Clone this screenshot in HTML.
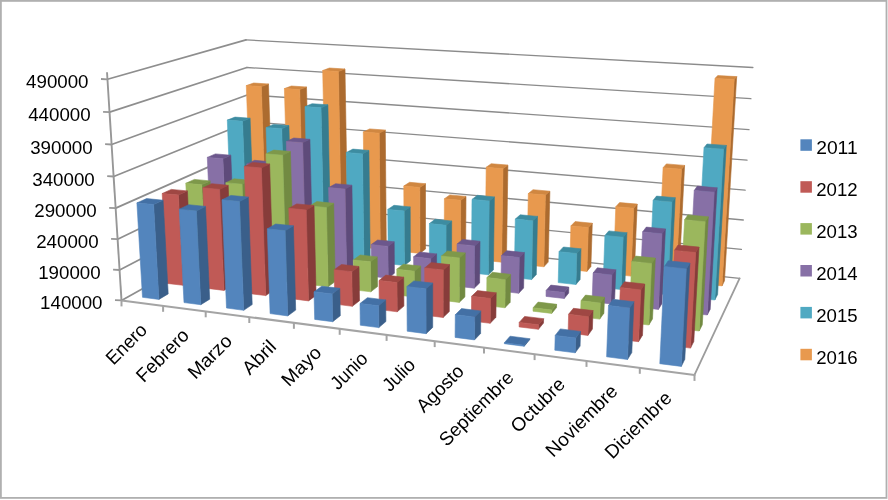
<!DOCTYPE html>
<html><head><meta charset="utf-8"><title>Chart</title>
<style>
html,body{margin:0;padding:0;background:#fff}
body{width:888px;height:500px;position:relative;overflow:hidden}
.t{font-family:"Liberation Sans","DejaVu Sans",sans-serif;font-size:18.8px;fill:#000}
.c{font-size:19px}
.v{font-size:18.8px}
</style></head><body>
<svg width="888" height="500" viewBox="0 0 888 500" style="position:absolute;left:0;top:0">
<rect x="0.9" y="0.9" width="885.6" height="497" fill="#fff" stroke="#b0b0b0" stroke-width="1.8"/>
<polygon fill="#fff" points="121.5,300.4 252.7,227.1 739.6,278.4 694.5,374.9"/>
<line x1="252.7" y1="227.1" x2="739.6" y2="278.4" stroke="#8b8b8b" stroke-width="1.35" stroke-linecap="round"/>
<line x1="121.5" y1="300.4" x2="252.7" y2="227.1" stroke="#8e8e8e" stroke-width="1.7" stroke-linecap="round"/>
<line x1="251.7" y1="201.2" x2="741.4" y2="249.4" stroke="#8b8b8b" stroke-width="1.35" stroke-linecap="round"/>
<line x1="119.6" y1="270.0" x2="251.7" y2="201.2" stroke="#8e8e8e" stroke-width="1.7" stroke-linecap="round"/>
<line x1="250.8" y1="175.0" x2="743.3" y2="220.0" stroke="#8b8b8b" stroke-width="1.35" stroke-linecap="round"/>
<line x1="117.6" y1="239.2" x2="250.8" y2="175.0" stroke="#8e8e8e" stroke-width="1.7" stroke-linecap="round"/>
<line x1="249.9" y1="148.6" x2="745.1" y2="190.2" stroke="#8b8b8b" stroke-width="1.35" stroke-linecap="round"/>
<line x1="115.7" y1="208.1" x2="249.9" y2="148.6" stroke="#8e8e8e" stroke-width="1.7" stroke-linecap="round"/>
<line x1="248.9" y1="121.8" x2="747.0" y2="160.1" stroke="#8b8b8b" stroke-width="1.35" stroke-linecap="round"/>
<line x1="113.7" y1="176.5" x2="248.9" y2="121.8" stroke="#8e8e8e" stroke-width="1.7" stroke-linecap="round"/>
<line x1="247.9" y1="94.8" x2="749.0" y2="129.6" stroke="#8b8b8b" stroke-width="1.35" stroke-linecap="round"/>
<line x1="111.6" y1="144.5" x2="247.9" y2="94.8" stroke="#8e8e8e" stroke-width="1.7" stroke-linecap="round"/>
<line x1="246.9" y1="67.5" x2="750.9" y2="98.7" stroke="#8b8b8b" stroke-width="1.35" stroke-linecap="round"/>
<line x1="109.6" y1="112.1" x2="246.9" y2="67.5" stroke="#8e8e8e" stroke-width="1.7" stroke-linecap="round"/>
<line x1="246.0" y1="39.9" x2="752.9" y2="67.5" stroke="#8b8b8b" stroke-width="1.35" stroke-linecap="round"/>
<line x1="107.5" y1="79.3" x2="246.0" y2="39.9" stroke="#8e8e8e" stroke-width="1.7" stroke-linecap="round"/>
<line x1="694.5" y1="374.9" x2="739.6" y2="278.4" stroke="#9c9c9c" stroke-width="1.8" stroke-linecap="round"/>
<line x1="121.5" y1="300.4" x2="694.5" y2="374.9" stroke="#a4a4a4" stroke-width="2.0" stroke-linecap="round"/>
<line x1="121.5" y1="300.4" x2="107.0" y2="72.3" stroke="#979797" stroke-width="1.9"/>
<line x1="115.0" y1="300.1" x2="121.5" y2="300.4" stroke="#979797" stroke-width="1.8"/>
<line x1="113.1" y1="269.7" x2="119.6" y2="270.0" stroke="#979797" stroke-width="1.8"/>
<line x1="111.1" y1="238.9" x2="117.6" y2="239.2" stroke="#979797" stroke-width="1.8"/>
<line x1="109.2" y1="207.8" x2="115.7" y2="208.1" stroke="#979797" stroke-width="1.8"/>
<line x1="107.2" y1="176.2" x2="113.7" y2="176.5" stroke="#979797" stroke-width="1.8"/>
<line x1="105.1" y1="144.2" x2="111.6" y2="144.5" stroke="#979797" stroke-width="1.8"/>
<line x1="103.1" y1="111.8" x2="109.6" y2="112.1" stroke="#979797" stroke-width="1.8"/>
<line x1="101.0" y1="79.0" x2="107.5" y2="79.3" stroke="#979797" stroke-width="1.8"/>
<line x1="121.5" y1="300.4" x2="121.5" y2="306.4" stroke="#a4a4a4" stroke-width="2"/>
<line x1="163.1" y1="305.8" x2="163.1" y2="311.8" stroke="#a4a4a4" stroke-width="2"/>
<line x1="205.7" y1="311.3" x2="205.7" y2="317.3" stroke="#a4a4a4" stroke-width="2"/>
<line x1="249.3" y1="317.0" x2="249.3" y2="323.0" stroke="#a4a4a4" stroke-width="2"/>
<line x1="293.9" y1="322.8" x2="293.9" y2="328.8" stroke="#a4a4a4" stroke-width="2"/>
<line x1="339.7" y1="328.8" x2="339.7" y2="334.8" stroke="#a4a4a4" stroke-width="2"/>
<line x1="386.6" y1="334.9" x2="386.6" y2="340.9" stroke="#a4a4a4" stroke-width="2"/>
<line x1="434.7" y1="341.1" x2="434.7" y2="347.1" stroke="#a4a4a4" stroke-width="2"/>
<line x1="484.0" y1="347.5" x2="484.0" y2="353.5" stroke="#a4a4a4" stroke-width="2"/>
<line x1="534.6" y1="354.1" x2="534.6" y2="360.1" stroke="#a4a4a4" stroke-width="2"/>
<line x1="586.5" y1="360.9" x2="586.5" y2="366.9" stroke="#a4a4a4" stroke-width="2"/>
<line x1="639.8" y1="367.8" x2="639.8" y2="373.8" stroke="#a4a4a4" stroke-width="2"/>
<line x1="694.5" y1="374.9" x2="694.5" y2="380.9" stroke="#a4a4a4" stroke-width="2"/>
<g transform="translate(0,0)">
<g transform="translate(0.50,0)">
<polygon fill="#AC6B2F" stroke="#AC6B2F" stroke-width="0.6" stroke-linejoin="round" points="265.8,236.9 272.8,232.8 268.0,84.0 260.8,86.6"/>
<polygon fill="#D08741" stroke="#D08741" stroke-width="0.6" stroke-linejoin="round" points="245.8,85.6 260.8,86.6 268.0,84.0 253.2,83.0"/>
<polygon fill="#E8994E" stroke="#E8994E" stroke-width="0.6" stroke-linejoin="round" points="251.3,235.3 265.8,236.9 260.8,86.6 245.8,85.6"/>
<polygon fill="#AC6B2F" stroke="#AC6B2F" stroke-width="0.6" stroke-linejoin="round" points="303.1,240.9 309.7,236.7 306.0,87.0 299.2,89.6"/>
<polygon fill="#D08741" stroke="#D08741" stroke-width="0.6" stroke-linejoin="round" points="283.9,88.6 299.2,89.6 306.0,87.0 290.9,86.0"/>
<polygon fill="#E8994E" stroke="#E8994E" stroke-width="0.6" stroke-linejoin="round" points="288.2,239.3 303.1,240.9 299.2,89.6 283.9,88.6"/>
<polygon fill="#AC6B2F" stroke="#AC6B2F" stroke-width="0.6" stroke-linejoin="round" points="341.1,245.0 347.4,240.7 344.5,69.0 337.9,71.5"/>
<polygon fill="#D08741" stroke="#D08741" stroke-width="0.6" stroke-linejoin="round" points="322.2,70.5 337.9,71.5 344.5,69.0 328.9,68.0"/>
<polygon fill="#E8994E" stroke="#E8994E" stroke-width="0.6" stroke-linejoin="round" points="325.9,243.3 341.1,245.0 337.9,71.5 322.2,70.5"/>
<polygon fill="#AC6B2F" stroke="#AC6B2F" stroke-width="0.6" stroke-linejoin="round" points="379.8,249.2 385.8,244.8 384.8,130.1 378.7,133.2"/>
<polygon fill="#D08741" stroke="#D08741" stroke-width="0.6" stroke-linejoin="round" points="362.8,132.0 378.7,133.2 384.8,130.1 369.1,128.9"/>
<polygon fill="#E8994E" stroke="#E8994E" stroke-width="0.6" stroke-linejoin="round" points="364.4,247.5 379.8,249.2 378.7,133.2 362.8,132.0"/>
<polygon fill="#AC6B2F" stroke="#AC6B2F" stroke-width="0.6" stroke-linejoin="round" points="419.4,253.4 425.0,249.0 425.0,183.7 419.3,187.5"/>
<polygon fill="#D08741" stroke="#D08741" stroke-width="0.6" stroke-linejoin="round" points="403.3,186.0 419.3,187.5 425.0,183.7 409.1,182.3"/>
<polygon fill="#E8994E" stroke="#E8994E" stroke-width="0.6" stroke-linejoin="round" points="403.6,251.7 419.4,253.4 419.3,187.5 403.3,186.0"/>
<polygon fill="#AC6B2F" stroke="#AC6B2F" stroke-width="0.6" stroke-linejoin="round" points="459.9,257.8 465.1,253.3 465.5,196.4 460.2,200.3"/>
<polygon fill="#D08741" stroke="#D08741" stroke-width="0.6" stroke-linejoin="round" points="443.9,198.8 460.2,200.3 465.5,196.4 449.3,194.9"/>
<polygon fill="#E8994E" stroke="#E8994E" stroke-width="0.6" stroke-linejoin="round" points="443.7,256.0 459.9,257.8 460.2,200.3 443.9,198.8"/>
<polygon fill="#AC6B2F" stroke="#AC6B2F" stroke-width="0.6" stroke-linejoin="round" points="501.1,262.2 506.0,257.6 507.4,165.1 502.5,168.7"/>
<polygon fill="#D08741" stroke="#D08741" stroke-width="0.6" stroke-linejoin="round" points="485.7,167.3 502.5,168.7 507.4,165.1 490.7,163.7"/>
<polygon fill="#E8994E" stroke="#E8994E" stroke-width="0.6" stroke-linejoin="round" points="484.6,260.4 501.1,262.2 502.5,168.7 485.7,167.3"/>
<polygon fill="#AC6B2F" stroke="#AC6B2F" stroke-width="0.6" stroke-linejoin="round" points="543.3,266.8 547.7,262.1 549.4,191.2 544.9,195.1"/>
<polygon fill="#D08741" stroke="#D08741" stroke-width="0.6" stroke-linejoin="round" points="527.8,193.6 544.9,195.1 549.4,191.2 532.5,189.7"/>
<polygon fill="#E8994E" stroke="#E8994E" stroke-width="0.6" stroke-linejoin="round" points="526.5,264.9 543.3,266.8 544.9,195.1 527.8,193.6"/>
<polygon fill="#AC6B2F" stroke="#AC6B2F" stroke-width="0.6" stroke-linejoin="round" points="586.4,271.4 590.4,266.6 591.8,223.2 587.8,227.6"/>
<polygon fill="#D08741" stroke="#D08741" stroke-width="0.6" stroke-linejoin="round" points="570.4,225.9 587.8,227.6 591.8,223.2 574.6,221.6"/>
<polygon fill="#E8994E" stroke="#E8994E" stroke-width="0.6" stroke-linejoin="round" points="569.2,269.5 586.4,271.4 587.8,227.6 570.4,225.9"/>
<polygon fill="#AC6B2F" stroke="#AC6B2F" stroke-width="0.6" stroke-linejoin="round" points="630.4,276.1 633.9,271.2 636.7,204.1 633.2,208.3"/>
<polygon fill="#D08741" stroke="#D08741" stroke-width="0.6" stroke-linejoin="round" points="615.3,206.7 633.2,208.3 636.7,204.1 619.1,202.6"/>
<polygon fill="#E8994E" stroke="#E8994E" stroke-width="0.6" stroke-linejoin="round" points="612.8,274.2 630.4,276.1 633.2,208.3 615.3,206.7"/>
<polygon fill="#AC6B2F" stroke="#AC6B2F" stroke-width="0.6" stroke-linejoin="round" points="675.4,281.0 678.5,276.0 684.1,165.4 681.0,169.2"/>
<polygon fill="#D08741" stroke="#D08741" stroke-width="0.6" stroke-linejoin="round" points="662.6,167.7 681.0,169.2 684.1,165.4 665.9,163.9"/>
<polygon fill="#E8994E" stroke="#E8994E" stroke-width="0.6" stroke-linejoin="round" points="657.4,279.1 675.4,281.0 681.0,169.2 662.6,167.7"/>
<polygon fill="#AC6B2F" stroke="#AC6B2F" stroke-width="0.6" stroke-linejoin="round" points="721.5,285.9 724.0,280.8 736.2,76.6 733.7,79.5"/>
<polygon fill="#D08741" stroke="#D08741" stroke-width="0.6" stroke-linejoin="round" points="714.5,78.4 733.7,79.5 736.2,76.6 717.2,75.6"/>
<polygon fill="#E8994E" stroke="#E8994E" stroke-width="0.6" stroke-linejoin="round" points="703.1,284.0 721.5,285.9 733.7,79.5 714.5,78.4"/>
</g>
<g transform="translate(0.40,0)">
<polygon fill="#367C8F" stroke="#367C8F" stroke-width="0.6" stroke-linejoin="round" points="246.8,248.0 254.2,243.7 249.7,118.2 242.1,121.3"/>
<polygon fill="#3D8CA1" stroke="#3D8CA1" stroke-width="0.6" stroke-linejoin="round" points="226.9,120.1 242.1,121.3 249.7,118.2 234.6,117.1"/>
<polygon fill="#4FA9C2" stroke="#4FA9C2" stroke-width="0.6" stroke-linejoin="round" points="231.9,246.3 246.8,248.0 242.1,121.3 226.9,120.1"/>
<polygon fill="#367C8F" stroke="#367C8F" stroke-width="0.6" stroke-linejoin="round" points="284.9,252.2 291.9,247.8 288.5,125.6 281.3,128.7"/>
<polygon fill="#3D8CA1" stroke="#3D8CA1" stroke-width="0.6" stroke-linejoin="round" points="265.7,127.5 281.3,128.7 288.5,125.6 273.1,124.4"/>
<polygon fill="#4FA9C2" stroke="#4FA9C2" stroke-width="0.6" stroke-linejoin="round" points="269.7,250.5 284.9,252.2 281.3,128.7 265.7,127.5"/>
<polygon fill="#367C8F" stroke="#367C8F" stroke-width="0.6" stroke-linejoin="round" points="323.8,256.5 330.5,252.1 327.5,104.8 320.6,107.8"/>
<polygon fill="#3D8CA1" stroke="#3D8CA1" stroke-width="0.6" stroke-linejoin="round" points="304.6,106.6 320.6,107.8 327.5,104.8 311.7,103.7"/>
<polygon fill="#4FA9C2" stroke="#4FA9C2" stroke-width="0.6" stroke-linejoin="round" points="308.3,254.8 323.8,256.5 320.6,107.8 304.6,106.6"/>
<polygon fill="#367C8F" stroke="#367C8F" stroke-width="0.6" stroke-linejoin="round" points="363.5,261.0 369.8,256.4 368.5,150.4 362.1,153.9"/>
<polygon fill="#3D8CA1" stroke="#3D8CA1" stroke-width="0.6" stroke-linejoin="round" points="345.9,152.5 362.1,153.9 368.5,150.4 352.5,149.1"/>
<polygon fill="#4FA9C2" stroke="#4FA9C2" stroke-width="0.6" stroke-linejoin="round" points="347.7,259.2 363.5,261.0 362.1,153.9 345.9,152.5"/>
<polygon fill="#367C8F" stroke="#367C8F" stroke-width="0.6" stroke-linejoin="round" points="404.1,265.5 410.0,260.8 409.8,206.9 403.8,211.0"/>
<polygon fill="#3D8CA1" stroke="#3D8CA1" stroke-width="0.6" stroke-linejoin="round" points="387.4,209.4 403.8,211.0 409.8,206.9 393.6,205.3"/>
<polygon fill="#4FA9C2" stroke="#4FA9C2" stroke-width="0.6" stroke-linejoin="round" points="387.9,263.7 404.1,265.5 403.8,211.0 387.4,209.4"/>
<polygon fill="#367C8F" stroke="#367C8F" stroke-width="0.6" stroke-linejoin="round" points="445.6,270.1 451.1,265.3 451.3,221.0 445.7,225.3"/>
<polygon fill="#3D8CA1" stroke="#3D8CA1" stroke-width="0.6" stroke-linejoin="round" points="429.0,223.6 445.7,225.3 451.3,221.0 434.7,219.3"/>
<polygon fill="#4FA9C2" stroke="#4FA9C2" stroke-width="0.6" stroke-linejoin="round" points="429.0,268.2 445.6,270.1 445.7,225.3 429.0,223.6"/>
<polygon fill="#367C8F" stroke="#367C8F" stroke-width="0.6" stroke-linejoin="round" points="487.9,274.8 493.0,269.9 494.0,196.9 488.8,201.0"/>
<polygon fill="#3D8CA1" stroke="#3D8CA1" stroke-width="0.6" stroke-linejoin="round" points="471.6,199.4 488.8,201.0 494.0,196.9 476.9,195.3"/>
<polygon fill="#4FA9C2" stroke="#4FA9C2" stroke-width="0.6" stroke-linejoin="round" points="471.0,272.9 487.9,274.8 488.8,201.0 471.6,199.4"/>
<polygon fill="#367C8F" stroke="#367C8F" stroke-width="0.6" stroke-linejoin="round" points="531.2,279.6 535.9,274.6 537.1,216.4 532.4,220.8"/>
<polygon fill="#3D8CA1" stroke="#3D8CA1" stroke-width="0.6" stroke-linejoin="round" points="514.9,219.1 532.4,220.8 537.1,216.4 519.8,214.8"/>
<polygon fill="#4FA9C2" stroke="#4FA9C2" stroke-width="0.6" stroke-linejoin="round" points="513.9,277.7 531.2,279.6 532.4,220.8 514.9,219.1"/>
<polygon fill="#367C8F" stroke="#367C8F" stroke-width="0.6" stroke-linejoin="round" points="575.5,284.5 579.7,279.5 580.6,248.8 576.4,253.5"/>
<polygon fill="#3D8CA1" stroke="#3D8CA1" stroke-width="0.6" stroke-linejoin="round" points="558.6,251.7 576.4,253.5 580.6,248.8 563.0,247.0"/>
<polygon fill="#4FA9C2" stroke="#4FA9C2" stroke-width="0.6" stroke-linejoin="round" points="557.8,282.6 575.5,284.5 576.4,253.5 558.6,251.7"/>
<polygon fill="#367C8F" stroke="#367C8F" stroke-width="0.6" stroke-linejoin="round" points="620.7,289.6 624.5,284.4 626.5,232.7 622.8,237.3"/>
<polygon fill="#3D8CA1" stroke="#3D8CA1" stroke-width="0.6" stroke-linejoin="round" points="604.5,235.5 622.8,237.3 626.5,232.7 608.4,230.9"/>
<polygon fill="#4FA9C2" stroke="#4FA9C2" stroke-width="0.6" stroke-linejoin="round" points="602.6,287.6 620.7,289.6 622.8,237.3 604.5,235.5"/>
<polygon fill="#367C8F" stroke="#367C8F" stroke-width="0.6" stroke-linejoin="round" points="667.1,294.7 670.3,289.4 674.8,197.7 671.5,202.1"/>
<polygon fill="#3D8CA1" stroke="#3D8CA1" stroke-width="0.6" stroke-linejoin="round" points="652.7,200.4 671.5,202.1 674.8,197.7 656.1,196.1"/>
<polygon fill="#4FA9C2" stroke="#4FA9C2" stroke-width="0.6" stroke-linejoin="round" points="648.5,292.7 667.1,294.7 671.5,202.1 652.7,200.4"/>
<polygon fill="#367C8F" stroke="#367C8F" stroke-width="0.6" stroke-linejoin="round" points="714.4,300.0 717.2,294.6 725.9,145.4 723.2,149.2"/>
<polygon fill="#3D8CA1" stroke="#3D8CA1" stroke-width="0.6" stroke-linejoin="round" points="703.6,147.7 723.2,149.2 725.9,145.4 706.6,144.0"/>
<polygon fill="#4FA9C2" stroke="#4FA9C2" stroke-width="0.6" stroke-linejoin="round" points="695.5,297.9 714.4,300.0 723.2,149.2 703.6,147.7"/>
</g>
<g transform="translate(0.30,0)">
<polygon fill="#5E4B7A" stroke="#5E4B7A" stroke-width="0.6" stroke-linejoin="round" points="226.8,259.7 234.5,255.2 230.5,155.2 222.6,158.7"/>
<polygon fill="#6C578C" stroke="#6C578C" stroke-width="0.6" stroke-linejoin="round" points="207.0,157.4 222.6,158.7 230.5,155.2 215.1,153.9"/>
<polygon fill="#8770A6" stroke="#8770A6" stroke-width="0.6" stroke-linejoin="round" points="211.5,258.0 226.8,259.7 222.6,158.7 207.0,157.4"/>
<polygon fill="#5E4B7A" stroke="#5E4B7A" stroke-width="0.6" stroke-linejoin="round" points="265.7,264.2 273.2,259.6 270.0,161.7 262.4,165.3"/>
<polygon fill="#6C578C" stroke="#6C578C" stroke-width="0.6" stroke-linejoin="round" points="246.5,163.9 262.4,165.3 270.0,161.7 254.3,160.3"/>
<polygon fill="#8770A6" stroke="#8770A6" stroke-width="0.6" stroke-linejoin="round" points="250.2,262.4 265.7,264.2 262.4,165.3 246.5,163.9"/>
<polygon fill="#5E4B7A" stroke="#5E4B7A" stroke-width="0.6" stroke-linejoin="round" points="305.6,268.8 312.6,264.0 309.6,139.3 302.4,142.7"/>
<polygon fill="#6C578C" stroke="#6C578C" stroke-width="0.6" stroke-linejoin="round" points="286.0,141.4 302.4,142.7 309.6,139.3 293.5,138.0"/>
<polygon fill="#8770A6" stroke="#8770A6" stroke-width="0.6" stroke-linejoin="round" points="289.7,266.9 305.6,268.8 302.4,142.7 286.0,141.4"/>
<polygon fill="#5E4B7A" stroke="#5E4B7A" stroke-width="0.6" stroke-linejoin="round" points="346.3,273.5 352.9,268.6 351.6,185.2 344.8,189.1"/>
<polygon fill="#6C578C" stroke="#6C578C" stroke-width="0.6" stroke-linejoin="round" points="328.3,187.6 344.8,189.1 351.6,185.2 335.3,183.7"/>
<polygon fill="#8770A6" stroke="#8770A6" stroke-width="0.6" stroke-linejoin="round" points="330.0,271.6 346.3,273.5 344.8,189.1 328.3,187.6"/>
<polygon fill="#5E4B7A" stroke="#5E4B7A" stroke-width="0.6" stroke-linejoin="round" points="387.9,278.3 394.1,273.3 393.9,241.8 387.6,246.4"/>
<polygon fill="#6C578C" stroke="#6C578C" stroke-width="0.6" stroke-linejoin="round" points="370.9,244.6 387.6,246.4 393.9,241.8 377.3,240.0"/>
<polygon fill="#8770A6" stroke="#8770A6" stroke-width="0.6" stroke-linejoin="round" points="371.2,276.3 387.9,278.3 387.6,246.4 370.9,244.6"/>
<polygon fill="#5E4B7A" stroke="#5E4B7A" stroke-width="0.6" stroke-linejoin="round" points="430.4,283.2 436.3,278.1 436.3,253.9 430.4,258.7"/>
<polygon fill="#6C578C" stroke="#6C578C" stroke-width="0.6" stroke-linejoin="round" points="413.3,256.8 430.4,258.7 436.3,253.9 419.4,252.0"/>
<polygon fill="#8770A6" stroke="#8770A6" stroke-width="0.6" stroke-linejoin="round" points="413.4,281.2 430.4,283.2 430.4,258.7 413.3,256.8"/>
<polygon fill="#5E4B7A" stroke="#5E4B7A" stroke-width="0.6" stroke-linejoin="round" points="473.9,288.2 479.3,283.0 479.7,241.2 474.3,245.9"/>
<polygon fill="#6C578C" stroke="#6C578C" stroke-width="0.6" stroke-linejoin="round" points="456.7,244.1 474.3,245.9 479.7,241.2 462.4,239.4"/>
<polygon fill="#8770A6" stroke="#8770A6" stroke-width="0.6" stroke-linejoin="round" points="456.5,286.2 473.9,288.2 474.3,245.9 456.7,244.1"/>
<polygon fill="#5E4B7A" stroke="#5E4B7A" stroke-width="0.6" stroke-linejoin="round" points="518.4,293.3 523.3,288.0 524.0,252.6 519.0,257.5"/>
<polygon fill="#6C578C" stroke="#6C578C" stroke-width="0.6" stroke-linejoin="round" points="501.1,255.6 519.0,257.5 524.0,252.6 506.3,250.7"/>
<polygon fill="#8770A6" stroke="#8770A6" stroke-width="0.6" stroke-linejoin="round" points="500.6,291.2 518.4,293.3 519.0,257.5 501.1,255.6"/>
<polygon fill="#5E4B7A" stroke="#5E4B7A" stroke-width="0.6" stroke-linejoin="round" points="563.9,298.5 568.4,293.1 568.5,287.1 564.0,292.5"/>
<polygon fill="#6C578C" stroke="#6C578C" stroke-width="0.6" stroke-linejoin="round" points="545.8,290.4 564.0,292.5 568.5,287.1 550.5,285.1"/>
<polygon fill="#8770A6" stroke="#8770A6" stroke-width="0.6" stroke-linejoin="round" points="545.7,296.4 563.9,298.5 564.0,292.5 545.8,290.4"/>
<polygon fill="#5E4B7A" stroke="#5E4B7A" stroke-width="0.6" stroke-linejoin="round" points="610.4,303.9 614.4,298.3 615.5,269.8 611.5,275.0"/>
<polygon fill="#6C578C" stroke="#6C578C" stroke-width="0.6" stroke-linejoin="round" points="592.8,273.0 611.5,275.0 615.5,269.8 597.0,267.8"/>
<polygon fill="#8770A6" stroke="#8770A6" stroke-width="0.6" stroke-linejoin="round" points="591.8,301.7 610.4,303.9 611.5,275.0 592.8,273.0"/>
<polygon fill="#5E4B7A" stroke="#5E4B7A" stroke-width="0.6" stroke-linejoin="round" points="658.1,309.4 661.6,303.7 665.1,228.9 661.7,233.8"/>
<polygon fill="#6C578C" stroke="#6C578C" stroke-width="0.6" stroke-linejoin="round" points="642.3,231.9 661.7,233.8 665.1,228.9 646.0,227.1"/>
<polygon fill="#8770A6" stroke="#8770A6" stroke-width="0.6" stroke-linejoin="round" points="639.1,307.2 658.1,309.4 661.7,233.8 642.3,231.9"/>
<polygon fill="#5E4B7A" stroke="#5E4B7A" stroke-width="0.6" stroke-linejoin="round" points="707.0,315.0 709.9,309.2 716.8,187.8 713.9,192.2"/>
<polygon fill="#6C578C" stroke="#6C578C" stroke-width="0.6" stroke-linejoin="round" points="693.9,190.5 713.9,192.2 716.8,187.8 697.0,186.1"/>
<polygon fill="#8770A6" stroke="#8770A6" stroke-width="0.6" stroke-linejoin="round" points="687.4,312.7 707.0,315.0 713.9,192.2 693.9,190.5"/>
</g>
<g transform="translate(0.20,0)">
<polygon fill="#728A42" stroke="#728A42" stroke-width="0.6" stroke-linejoin="round" points="205.5,272.1 213.7,267.3 209.9,180.9 201.5,184.8"/>
<polygon fill="#7E984A" stroke="#7E984A" stroke-width="0.6" stroke-linejoin="round" points="185.6,183.3 201.5,184.8 209.9,180.9 194.2,179.4"/>
<polygon fill="#9BB75D" stroke="#9BB75D" stroke-width="0.6" stroke-linejoin="round" points="189.9,270.3 205.5,272.1 201.5,184.8 185.6,183.3"/>
<polygon fill="#728A42" stroke="#728A42" stroke-width="0.6" stroke-linejoin="round" points="245.4,276.9 253.3,272.0 249.9,180.3 241.9,184.2"/>
<polygon fill="#7E984A" stroke="#7E984A" stroke-width="0.6" stroke-linejoin="round" points="225.6,182.7 241.9,184.2 249.9,180.3 233.9,178.8"/>
<polygon fill="#9BB75D" stroke="#9BB75D" stroke-width="0.6" stroke-linejoin="round" points="229.4,275.0 245.4,276.9 241.9,184.2 225.6,182.7"/>
<polygon fill="#728A42" stroke="#728A42" stroke-width="0.6" stroke-linejoin="round" points="286.2,281.8 293.7,276.7 290.2,151.5 282.5,155.2"/>
<polygon fill="#7E984A" stroke="#7E984A" stroke-width="0.6" stroke-linejoin="round" points="265.8,153.8 282.5,155.2 290.2,151.5 273.6,150.1"/>
<polygon fill="#9BB75D" stroke="#9BB75D" stroke-width="0.6" stroke-linejoin="round" points="269.9,279.8 286.2,281.8 282.5,155.2 265.8,153.8"/>
<polygon fill="#728A42" stroke="#728A42" stroke-width="0.6" stroke-linejoin="round" points="327.9,286.7 335.0,281.6 333.5,203.3 326.3,207.6"/>
<polygon fill="#7E984A" stroke="#7E984A" stroke-width="0.6" stroke-linejoin="round" points="309.3,205.9 326.3,207.6 333.5,203.3 316.7,201.6"/>
<polygon fill="#9BB75D" stroke="#9BB75D" stroke-width="0.6" stroke-linejoin="round" points="311.2,284.8 327.9,286.7 326.3,207.6 309.3,205.9"/>
<polygon fill="#728A42" stroke="#728A42" stroke-width="0.6" stroke-linejoin="round" points="370.6,291.8 377.3,286.6 377.0,256.9 370.2,261.8"/>
<polygon fill="#7E984A" stroke="#7E984A" stroke-width="0.6" stroke-linejoin="round" points="353.1,259.9 370.2,261.8 377.0,256.9 360.0,255.0"/>
<polygon fill="#9BB75D" stroke="#9BB75D" stroke-width="0.6" stroke-linejoin="round" points="353.5,289.8 370.6,291.8 370.2,261.8 353.1,259.9"/>
<polygon fill="#728A42" stroke="#728A42" stroke-width="0.6" stroke-linejoin="round" points="414.3,297.0 420.5,291.7 420.5,266.1 414.2,271.2"/>
<polygon fill="#7E984A" stroke="#7E984A" stroke-width="0.6" stroke-linejoin="round" points="396.6,269.2 414.2,271.2 420.5,266.1 403.1,264.2"/>
<polygon fill="#9BB75D" stroke="#9BB75D" stroke-width="0.6" stroke-linejoin="round" points="396.8,295.0 414.3,297.0 414.2,271.2 396.6,269.2"/>
<polygon fill="#728A42" stroke="#728A42" stroke-width="0.6" stroke-linejoin="round" points="459.0,302.4 464.7,296.9 465.0,252.9 459.2,257.9"/>
<polygon fill="#7E984A" stroke="#7E984A" stroke-width="0.6" stroke-linejoin="round" points="441.2,256.0 459.2,257.9 465.0,252.9 447.2,251.0"/>
<polygon fill="#9BB75D" stroke="#9BB75D" stroke-width="0.6" stroke-linejoin="round" points="441.1,300.2 459.0,302.4 459.2,257.9 441.2,256.0"/>
<polygon fill="#728A42" stroke="#728A42" stroke-width="0.6" stroke-linejoin="round" points="504.7,307.8 510.0,302.2 510.4,274.4 505.1,279.7"/>
<polygon fill="#7E984A" stroke="#7E984A" stroke-width="0.6" stroke-linejoin="round" points="486.7,277.6 505.1,279.7 510.4,274.4 492.2,272.3"/>
<polygon fill="#9BB75D" stroke="#9BB75D" stroke-width="0.6" stroke-linejoin="round" points="486.4,305.6 504.7,307.8 505.1,279.7 486.7,277.6"/>
<polygon fill="#728A42" stroke="#728A42" stroke-width="0.6" stroke-linejoin="round" points="551.5,313.4 556.3,307.6 556.4,304.3 551.6,310.0"/>
<polygon fill="#7E984A" stroke="#7E984A" stroke-width="0.6" stroke-linejoin="round" points="532.9,307.8 551.6,310.0 556.4,304.3 537.9,302.1"/>
<polygon fill="#9BB75D" stroke="#9BB75D" stroke-width="0.6" stroke-linejoin="round" points="532.8,311.2 551.5,313.4 551.6,310.0 532.9,307.8"/>
<polygon fill="#728A42" stroke="#728A42" stroke-width="0.6" stroke-linejoin="round" points="599.5,319.1 603.7,313.2 604.3,297.3 600.0,303.0"/>
<polygon fill="#7E984A" stroke="#7E984A" stroke-width="0.6" stroke-linejoin="round" points="580.8,300.8 600.0,303.0 604.3,297.3 585.3,295.1"/>
<polygon fill="#9BB75D" stroke="#9BB75D" stroke-width="0.6" stroke-linejoin="round" points="580.3,316.8 599.5,319.1 600.0,303.0 580.8,300.8"/>
<polygon fill="#728A42" stroke="#728A42" stroke-width="0.6" stroke-linejoin="round" points="648.6,325.0 652.3,318.9 655.1,258.1 651.4,263.5"/>
<polygon fill="#7E984A" stroke="#7E984A" stroke-width="0.6" stroke-linejoin="round" points="631.5,261.4 651.4,263.5 655.1,258.1 635.4,256.1"/>
<polygon fill="#9BB75D" stroke="#9BB75D" stroke-width="0.6" stroke-linejoin="round" points="629.0,322.6 648.6,325.0 651.4,263.5 631.5,261.4"/>
<polygon fill="#728A42" stroke="#728A42" stroke-width="0.6" stroke-linejoin="round" points="699.0,331.0 702.1,324.8 708.1,216.8 705.0,221.7"/>
<polygon fill="#7E984A" stroke="#7E984A" stroke-width="0.6" stroke-linejoin="round" points="684.4,219.8 705.0,221.7 708.1,216.8 687.7,214.9"/>
<polygon fill="#9BB75D" stroke="#9BB75D" stroke-width="0.6" stroke-linejoin="round" points="678.8,328.6 699.0,331.0 705.0,221.7 684.4,219.8"/>
</g>
<g transform="translate(0.10,0)">
<polygon fill="#873C3A" stroke="#873C3A" stroke-width="0.6" stroke-linejoin="round" points="182.9,285.3 191.6,280.2 187.3,190.9 178.3,195.1"/>
<polygon fill="#9F4743" stroke="#9F4743" stroke-width="0.6" stroke-linejoin="round" points="162.1,193.5 178.3,195.1 187.3,190.9 171.2,189.4"/>
<polygon fill="#C05A56" stroke="#C05A56" stroke-width="0.6" stroke-linejoin="round" points="166.9,283.4 182.9,285.3 178.3,195.1 162.1,193.5"/>
<polygon fill="#873C3A" stroke="#873C3A" stroke-width="0.6" stroke-linejoin="round" points="223.8,290.4 232.1,285.2 228.1,185.3 219.5,189.4"/>
<polygon fill="#9F4743" stroke="#9F4743" stroke-width="0.6" stroke-linejoin="round" points="202.8,187.8 219.5,189.4 228.1,185.3 211.6,183.7"/>
<polygon fill="#C05A56" stroke="#C05A56" stroke-width="0.6" stroke-linejoin="round" points="207.4,288.4 223.8,290.4 219.5,189.4 202.8,187.8"/>
<polygon fill="#873C3A" stroke="#873C3A" stroke-width="0.6" stroke-linejoin="round" points="265.6,295.6 273.6,290.2 269.5,164.0 261.3,167.9"/>
<polygon fill="#9F4743" stroke="#9F4743" stroke-width="0.6" stroke-linejoin="round" points="244.2,166.4 261.3,167.9 269.5,164.0 252.6,162.5"/>
<polygon fill="#C05A56" stroke="#C05A56" stroke-width="0.6" stroke-linejoin="round" points="248.9,293.5 265.6,295.6 261.3,167.9 244.2,166.4"/>
<polygon fill="#873C3A" stroke="#873C3A" stroke-width="0.6" stroke-linejoin="round" points="308.4,300.9 316.0,295.4 313.9,205.6 306.2,210.0"/>
<polygon fill="#9F4743" stroke="#9F4743" stroke-width="0.6" stroke-linejoin="round" points="288.7,208.3 306.2,210.0 313.9,205.6 296.6,203.9"/>
<polygon fill="#C05A56" stroke="#C05A56" stroke-width="0.6" stroke-linejoin="round" points="291.3,298.7 308.4,300.9 306.2,210.0 288.7,208.3"/>
<polygon fill="#873C3A" stroke="#873C3A" stroke-width="0.6" stroke-linejoin="round" points="352.2,306.3 359.4,300.7 358.9,266.5 351.7,271.7"/>
<polygon fill="#9F4743" stroke="#9F4743" stroke-width="0.6" stroke-linejoin="round" points="334.1,269.7 351.7,271.7 358.9,266.5 341.4,264.5"/>
<polygon fill="#C05A56" stroke="#C05A56" stroke-width="0.6" stroke-linejoin="round" points="334.7,304.1 352.2,306.3 351.7,271.7 334.1,269.7"/>
<polygon fill="#873C3A" stroke="#873C3A" stroke-width="0.6" stroke-linejoin="round" points="397.1,311.8 403.8,306.1 403.6,277.2 396.9,282.6"/>
<polygon fill="#9F4743" stroke="#9F4743" stroke-width="0.6" stroke-linejoin="round" points="378.9,280.5 396.9,282.6 403.6,277.2 385.7,275.1"/>
<polygon fill="#C05A56" stroke="#C05A56" stroke-width="0.6" stroke-linejoin="round" points="379.2,309.6 397.1,311.8 396.9,282.6 378.9,280.5"/>
<polygon fill="#873C3A" stroke="#873C3A" stroke-width="0.6" stroke-linejoin="round" points="443.0,317.5 449.2,311.6 449.4,264.6 443.2,270.0"/>
<polygon fill="#9F4743" stroke="#9F4743" stroke-width="0.6" stroke-linejoin="round" points="424.6,267.9 443.2,270.0 449.4,264.6 431.0,262.6"/>
<polygon fill="#C05A56" stroke="#C05A56" stroke-width="0.6" stroke-linejoin="round" points="424.7,315.2 443.0,317.5 443.2,270.0 424.6,267.9"/>
<polygon fill="#873C3A" stroke="#873C3A" stroke-width="0.6" stroke-linejoin="round" points="490.1,323.3 495.8,317.3 496.1,292.8 490.4,298.5"/>
<polygon fill="#9F4743" stroke="#9F4743" stroke-width="0.6" stroke-linejoin="round" points="471.5,296.3 490.4,298.5 496.1,292.8 477.4,290.6"/>
<polygon fill="#C05A56" stroke="#C05A56" stroke-width="0.6" stroke-linejoin="round" points="471.3,321.0 490.1,323.3 490.4,298.5 471.5,296.3"/>
<polygon fill="#873C3A" stroke="#873C3A" stroke-width="0.6" stroke-linejoin="round" points="538.3,329.3 543.4,323.1 543.5,318.7 538.4,324.8"/>
<polygon fill="#9F4743" stroke="#9F4743" stroke-width="0.6" stroke-linejoin="round" points="519.1,322.4 538.4,324.8 543.5,318.7 524.5,316.4"/>
<polygon fill="#C05A56" stroke="#C05A56" stroke-width="0.6" stroke-linejoin="round" points="519.0,326.9 538.3,329.3 538.4,324.8 519.1,322.4"/>
<polygon fill="#873C3A" stroke="#873C3A" stroke-width="0.6" stroke-linejoin="round" points="587.8,335.4 592.3,329.1 592.9,310.6 588.4,316.7"/>
<polygon fill="#9F4743" stroke="#9F4743" stroke-width="0.6" stroke-linejoin="round" points="568.5,314.3 588.4,316.7 592.9,310.6 573.3,308.3"/>
<polygon fill="#C05A56" stroke="#C05A56" stroke-width="0.6" stroke-linejoin="round" points="568.0,333.0 587.8,335.4 588.4,316.7 568.5,314.3"/>
<polygon fill="#873C3A" stroke="#873C3A" stroke-width="0.6" stroke-linejoin="round" points="638.4,341.7 642.4,335.2 644.6,284.0 640.7,289.9"/>
<polygon fill="#9F4743" stroke="#9F4743" stroke-width="0.6" stroke-linejoin="round" points="620.2,287.6 640.7,289.9 644.6,284.0 624.4,281.8"/>
<polygon fill="#C05A56" stroke="#C05A56" stroke-width="0.6" stroke-linejoin="round" points="618.2,339.2 638.4,341.7 640.7,289.9 620.2,287.6"/>
<polygon fill="#873C3A" stroke="#873C3A" stroke-width="0.6" stroke-linejoin="round" points="690.4,348.1 693.7,341.5 698.9,247.1 695.6,252.5"/>
<polygon fill="#9F4743" stroke="#9F4743" stroke-width="0.6" stroke-linejoin="round" points="674.3,250.4 695.6,252.5 698.9,247.1 677.9,245.0"/>
<polygon fill="#C05A56" stroke="#C05A56" stroke-width="0.6" stroke-linejoin="round" points="669.6,345.5 690.4,348.1 695.6,252.5 674.3,250.4"/>
</g>
<g transform="translate(0.00,0)">
<polygon fill="#3A5F8A" stroke="#3A5F8A" stroke-width="0.6" stroke-linejoin="round" points="158.9,299.4 168.2,293.9 163.1,200.2 153.6,204.6"/>
<polygon fill="#4370A5" stroke="#4370A5" stroke-width="0.6" stroke-linejoin="round" points="136.9,202.9 153.6,204.6 163.1,200.2 146.6,198.6"/>
<polygon fill="#5385BD" stroke="#5385BD" stroke-width="0.6" stroke-linejoin="round" points="142.5,297.3 158.9,299.4 153.6,204.6 136.9,202.9"/>
<polygon fill="#3A5F8A" stroke="#3A5F8A" stroke-width="0.6" stroke-linejoin="round" points="200.8,304.7 209.7,299.2 205.5,206.4 196.4,211.0"/>
<polygon fill="#4370A5" stroke="#4370A5" stroke-width="0.6" stroke-linejoin="round" points="179.3,209.2 196.4,211.0 205.5,206.4 188.6,204.7"/>
<polygon fill="#5385BD" stroke="#5385BD" stroke-width="0.6" stroke-linejoin="round" points="184.0,302.6 200.8,304.7 196.4,211.0 179.3,209.2"/>
<polygon fill="#3A5F8A" stroke="#3A5F8A" stroke-width="0.6" stroke-linejoin="round" points="243.7,310.3 252.2,304.6 248.3,197.1 239.5,201.5"/>
<polygon fill="#4370A5" stroke="#4370A5" stroke-width="0.6" stroke-linejoin="round" points="222.0,199.8 239.5,201.5 248.3,197.1 230.9,195.4"/>
<polygon fill="#5385BD" stroke="#5385BD" stroke-width="0.6" stroke-linejoin="round" points="226.5,308.0 243.7,310.3 239.5,201.5 222.0,199.8"/>
<polygon fill="#3A5F8A" stroke="#3A5F8A" stroke-width="0.6" stroke-linejoin="round" points="287.7,315.9 295.7,310.1 293.4,225.8 285.2,230.7"/>
<polygon fill="#4370A5" stroke="#4370A5" stroke-width="0.6" stroke-linejoin="round" points="267.3,228.8 285.2,230.7 293.4,225.8 275.7,224.0"/>
<polygon fill="#5385BD" stroke="#5385BD" stroke-width="0.6" stroke-linejoin="round" points="270.1,313.6 287.7,315.9 285.2,230.7 267.3,228.8"/>
<polygon fill="#3A5F8A" stroke="#3A5F8A" stroke-width="0.6" stroke-linejoin="round" points="332.7,321.7 340.3,315.7 339.8,288.3 332.1,294.0"/>
<polygon fill="#4370A5" stroke="#4370A5" stroke-width="0.6" stroke-linejoin="round" points="314.0,291.8 332.1,294.0 339.8,288.3 321.8,286.2"/>
<polygon fill="#5385BD" stroke="#5385BD" stroke-width="0.6" stroke-linejoin="round" points="314.7,319.4 332.7,321.7 332.1,294.0 314.0,291.8"/>
<polygon fill="#3A5F8A" stroke="#3A5F8A" stroke-width="0.6" stroke-linejoin="round" points="378.8,327.6 385.9,321.5 385.7,299.9 378.6,305.8"/>
<polygon fill="#4370A5" stroke="#4370A5" stroke-width="0.6" stroke-linejoin="round" points="360.0,303.5 378.6,305.8 385.7,299.9 367.4,297.7"/>
<polygon fill="#5385BD" stroke="#5385BD" stroke-width="0.6" stroke-linejoin="round" points="360.3,325.2 378.8,327.6 378.6,305.8 360.0,303.5"/>
<polygon fill="#3A5F8A" stroke="#3A5F8A" stroke-width="0.6" stroke-linejoin="round" points="426.1,333.7 432.7,327.4 432.7,283.1 426.0,288.8"/>
<polygon fill="#4370A5" stroke="#4370A5" stroke-width="0.6" stroke-linejoin="round" points="406.9,286.6 426.0,288.8 432.7,283.1 413.8,280.9"/>
<polygon fill="#5385BD" stroke="#5385BD" stroke-width="0.6" stroke-linejoin="round" points="407.2,331.2 426.1,333.7 426.0,288.8 406.9,286.6"/>
<polygon fill="#3A5F8A" stroke="#3A5F8A" stroke-width="0.6" stroke-linejoin="round" points="474.5,339.9 480.6,333.5 480.8,310.9 474.7,317.1"/>
<polygon fill="#4370A5" stroke="#4370A5" stroke-width="0.6" stroke-linejoin="round" points="455.3,314.7 474.7,317.1 480.8,310.9 461.5,308.6"/>
<polygon fill="#5385BD" stroke="#5385BD" stroke-width="0.6" stroke-linejoin="round" points="455.1,337.4 474.5,339.9 474.7,317.1 455.3,314.7"/>
<polygon fill="#3A5F8A" stroke="#3A5F8A" stroke-width="0.6" stroke-linejoin="round" points="524.2,346.3 529.7,339.7 529.7,338.7 524.2,345.3"/>
<polygon fill="#4370A5" stroke="#4370A5" stroke-width="0.6" stroke-linejoin="round" points="504.4,342.7 524.2,345.3 529.7,338.7 510.1,336.2"/>
<polygon fill="#5385BD" stroke="#5385BD" stroke-width="0.6" stroke-linejoin="round" points="504.3,343.7 524.2,346.3 524.2,345.3 504.4,342.7"/>
<polygon fill="#3A5F8A" stroke="#3A5F8A" stroke-width="0.6" stroke-linejoin="round" points="575.2,352.8 580.1,346.1 580.5,331.4 575.7,338.0"/>
<polygon fill="#4370A5" stroke="#4370A5" stroke-width="0.6" stroke-linejoin="round" points="555.2,335.4 575.7,338.0 580.5,331.4 560.3,328.9"/>
<polygon fill="#5385BD" stroke="#5385BD" stroke-width="0.6" stroke-linejoin="round" points="554.8,350.2 575.2,352.8 575.7,338.0 555.2,335.4"/>
<polygon fill="#3A5F8A" stroke="#3A5F8A" stroke-width="0.6" stroke-linejoin="round" points="627.5,359.5 631.8,352.6 633.9,301.7 629.6,308.0"/>
<polygon fill="#4370A5" stroke="#4370A5" stroke-width="0.6" stroke-linejoin="round" points="608.5,305.6 629.6,308.0 633.9,301.7 613.0,299.3"/>
<polygon fill="#5385BD" stroke="#5385BD" stroke-width="0.6" stroke-linejoin="round" points="606.6,356.8 627.5,359.5 629.6,308.0 608.5,305.6"/>
<polygon fill="#3A5F8A" stroke="#3A5F8A" stroke-width="0.6" stroke-linejoin="round" points="681.3,366.4 684.8,359.3 689.9,263.0 686.3,268.9"/>
<polygon fill="#4370A5" stroke="#4370A5" stroke-width="0.6" stroke-linejoin="round" points="664.4,266.6 686.3,268.9 689.9,263.0 668.2,260.8"/>
<polygon fill="#5385BD" stroke="#5385BD" stroke-width="0.6" stroke-linejoin="round" points="659.8,363.7 681.3,366.4 686.3,268.9 664.4,266.6"/>
</g>
</g>
<text x="102.5" y="309.4" text-anchor="end" class="t v" textLength="62.4" lengthAdjust="spacingAndGlyphs">140000</text>
<text x="100.6" y="279.0" text-anchor="end" class="t v" textLength="62.4" lengthAdjust="spacingAndGlyphs">190000</text>
<text x="98.6" y="248.2" text-anchor="end" class="t v" textLength="62.4" lengthAdjust="spacingAndGlyphs">240000</text>
<text x="96.7" y="217.1" text-anchor="end" class="t v" textLength="62.4" lengthAdjust="spacingAndGlyphs">290000</text>
<text x="94.7" y="185.5" text-anchor="end" class="t v" textLength="62.4" lengthAdjust="spacingAndGlyphs">340000</text>
<text x="92.6" y="153.5" text-anchor="end" class="t v" textLength="62.4" lengthAdjust="spacingAndGlyphs">390000</text>
<text x="90.6" y="121.1" text-anchor="end" class="t v" textLength="62.4" lengthAdjust="spacingAndGlyphs">440000</text>
<text x="88.5" y="88.3" text-anchor="end" class="t v" textLength="62.4" lengthAdjust="spacingAndGlyphs">490000</text>
<text transform="translate(148.1,331.2) rotate(-45)" text-anchor="end" class="t c" textLength="48.9" lengthAdjust="spacingAndGlyphs">Enero</text>
<text transform="translate(190.2,336.7) rotate(-45)" text-anchor="end" class="t c" textLength="65.7" lengthAdjust="spacingAndGlyphs">Febrero</text>
<text transform="translate(233.2,342.3) rotate(-45)" text-anchor="end" class="t c" textLength="53.4" lengthAdjust="spacingAndGlyphs">Marzo</text>
<text transform="translate(277.4,348.0) rotate(-45)" text-anchor="end" class="t c" textLength="39.2" lengthAdjust="spacingAndGlyphs">Abril</text>
<text transform="translate(322.6,353.9) rotate(-45)" text-anchor="end" class="t c" textLength="47.4" lengthAdjust="spacingAndGlyphs">Mayo</text>
<text transform="translate(368.9,359.9) rotate(-45)" text-anchor="end" class="t c" textLength="43.6" lengthAdjust="spacingAndGlyphs">Junio</text>
<text transform="translate(416.4,366.1) rotate(-45)" text-anchor="end" class="t c" textLength="37.5" lengthAdjust="spacingAndGlyphs">Julio</text>
<text transform="translate(465.1,372.4) rotate(-45)" text-anchor="end" class="t c" textLength="58.0" lengthAdjust="spacingAndGlyphs">Agosto</text>
<text transform="translate(515.0,378.9) rotate(-45)" text-anchor="end" class="t c" textLength="96.7" lengthAdjust="spacingAndGlyphs">Septiembre</text>
<text transform="translate(566.3,385.6) rotate(-45)" text-anchor="end" class="t c" textLength="68.0" lengthAdjust="spacingAndGlyphs">Octubre</text>
<text transform="translate(618.9,392.4) rotate(-45)" text-anchor="end" class="t c" textLength="92.7" lengthAdjust="spacingAndGlyphs">Noviembre</text>
<text transform="translate(672.9,399.4) rotate(-45)" text-anchor="end" class="t c" textLength="85.4" lengthAdjust="spacingAndGlyphs">Diciembre</text>
<rect x="800.4" y="139.3" width="11.5" height="11.5" fill="#5385BD"/>
<text x="816.2" y="154.0" class="t" textLength="41.4" lengthAdjust="spacingAndGlyphs">2011</text>
<rect x="800.4" y="181.2" width="11.5" height="11.5" fill="#C05A56"/>
<text x="816.2" y="195.9" class="t" textLength="41.4" lengthAdjust="spacingAndGlyphs">2012</text>
<rect x="800.4" y="223.1" width="11.5" height="11.5" fill="#9BB75D"/>
<text x="816.2" y="237.8" class="t" textLength="41.4" lengthAdjust="spacingAndGlyphs">2013</text>
<rect x="800.4" y="265.0" width="11.5" height="11.5" fill="#8770A6"/>
<text x="816.2" y="279.7" class="t" textLength="41.4" lengthAdjust="spacingAndGlyphs">2014</text>
<rect x="800.4" y="306.9" width="11.5" height="11.5" fill="#4FA9C2"/>
<text x="816.2" y="321.6" class="t" textLength="41.4" lengthAdjust="spacingAndGlyphs">2015</text>
<rect x="800.4" y="348.8" width="11.5" height="11.5" fill="#E8994E"/>
<text x="816.2" y="363.5" class="t" textLength="41.4" lengthAdjust="spacingAndGlyphs">2016</text>
</svg>
</body></html>
